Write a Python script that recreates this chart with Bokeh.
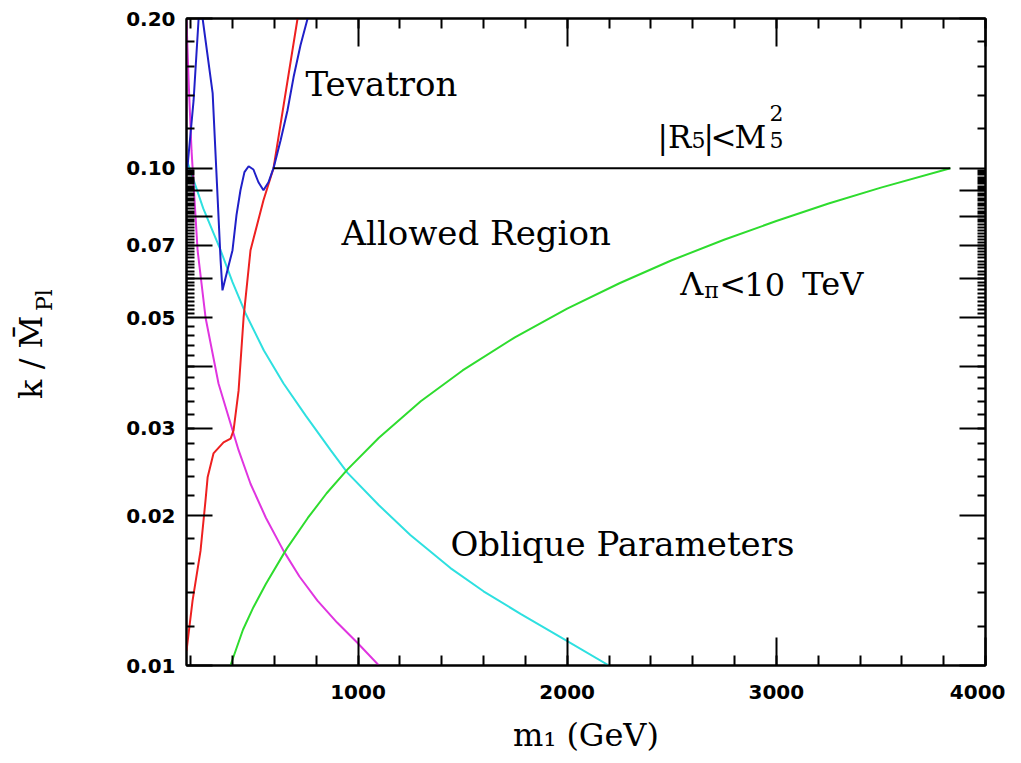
import numpy as np
from bokeh.plotting import figure
from bokeh.models import Range1d, FixedTicker, LinearAxis, LogAxis, Label
from bokeh.embed import file_html
from bokeh.resources import INLINE

# ---------------- data ----------------
cyan_m = [181, 260, 343, 400, 462, 550, 644, 750, 869, 950, 1100, 1250, 1442, 1600, 1777, 1968, 2200]
cyan_k = [0.1040, 0.0830, 0.0684, 0.0590, 0.0511, 0.0430, 0.0369, 0.0318, 0.0271, 0.0244, 0.0210, 0.0183, 0.0157, 0.0141, 0.0127, 0.0114, 0.0100]

magenta_m = [180, 190, 204, 233, 271, 333, 429, 486, 560, 644, 720, 806, 900, 998, 1100]
magenta_k = [0.1985, 0.1503, 0.1087, 0.0684, 0.0501, 0.0369, 0.0271, 0.0232, 0.0198, 0.0170, 0.0151, 0.0135, 0.0122, 0.0111, 0.0100]

green_m = [390, 450, 500, 560, 660, 760, 850, 950, 1100, 1300, 1500, 1750, 2000, 2250, 2500, 2750, 3000, 3250, 3500, 3832]
green_k = [0.0100, 0.0118, 0.0131, 0.0146, 0.0172, 0.0198, 0.0222, 0.0248, 0.0287, 0.0340, 0.0392, 0.0457, 0.0522, 0.0587, 0.0653, 0.0718, 0.0783, 0.0849, 0.0914, 0.1000]

red_m = [180, 209, 247, 271, 281, 309, 357, 391, 405, 429, 453, 486, 548, 596, 711]
red_k = [0.0107, 0.0135, 0.0170, 0.0215, 0.0239, 0.0267, 0.0281, 0.0286, 0.0297, 0.0357, 0.0501, 0.0684, 0.0862, 0.1000, 0.2000]

blue_m = [181, 214, 238, 247, 257, 305, 343, 352, 376, 400, 419, 438, 457, 477, 500, 524, 548, 572, 596, 630, 663, 692, 725, 759]
blue_k = [0.0968, 0.1370, 0.2000, 0.2300, 0.2000, 0.1416, 0.0653, 0.0568, 0.0624, 0.0684, 0.0805, 0.0903, 0.0982, 0.1009, 0.0994, 0.0937, 0.0903, 0.0937, 0.1000, 0.1138, 0.1308, 0.1525, 0.1767, 0.2000]

bound_m = [596, 3832]
bound_k = [0.10, 0.10]

x_major = [1000, 2000, 3000, 4000]
x_minor = list(range(200, 4001, 200))
y_major = [0.01, 0.02, 0.03, 0.04, 0.05, 0.06, 0.07, 0.08, 0.09, 0.10, 0.20]
y_labels = {0.01: "0.01", 0.02: "0.02", 0.03: "0.03", 0.04: "", 0.05: "0.05", 0.06: "",
            0.07: "0.07", 0.08: "", 0.09: "", 0.10: "0.10", 0.20: "0.20"}
y_minor = ([i / 1000 for i in range(12, 20, 2)] + [i / 1000 for i in range(22, 50, 2)]
           + [i / 1000 for i in range(51, 100)] + [i / 100 for i in range(12, 20, 2)])

SERIF = "DejaVu Serif"

# ---------------- figure ----------------
p = figure(width=1005, height=761, x_range=Range1d(180, 4000), y_range=Range1d(0.01, 0.2),
           y_axis_type="log", output_backend="svg", toolbar_location=None,
           min_border_left=186, min_border_right=20, min_border_top=18, min_border_bottom=96)
p.xgrid.visible = False
p.ygrid.visible = False
p.outline_line_color = "black"
p.outline_line_width = 2
p.background_fill_color = "white"
p.border_fill_color = "white"

def style_axis(ax, labels=True):
    ax.axis_line_width = 2
    ax.major_tick_line_width = 2
    ax.minor_tick_line_width = 2
    ax.major_tick_out = 0
    ax.minor_tick_out = 0
    ax.major_label_text_font = "DejaVu Sans"
    ax.major_label_text_font_style = "bold"
    ax.major_label_text_font_size = "20px"
    ax.major_label_text_color = "black"
    ax.axis_label_text_font = SERIF
    ax.axis_label_text_font_style = "normal"
    ax.axis_label_text_font_size = "32px"
    ax.axis_label_text_color = "black"
    if not labels:
        ax.major_label_text_color = None
        ax.major_label_text_font_size = "1px"
        ax.major_label_standoff = 0

xb = p.xaxis[0]
xb.ticker = FixedTicker(ticks=x_major, minor_ticks=x_minor)
style_axis(xb)
xb.major_tick_in = 28
xb.minor_tick_in = 10
xb.major_label_standoff = 19
xb.axis_label = "m\u2081 (GeV)"
xb.axis_label_standoff = 14

yl = p.yaxis[0]
yl.ticker = FixedTicker(ticks=y_major, minor_ticks=y_minor)
yl.major_label_overrides = y_labels
style_axis(yl)
yl.major_tick_in = 26
yl.minor_tick_in = 8
yl.major_label_standoff = 11

# extra (invisible) left axis carrying the y title: subscript as a tick label, main text as axis label
pl_pos = 0.0543
ytitle = LogAxis(ticker=FixedTicker(ticks=[pl_pos], minor_ticks=[]))
style_axis(ytitle)
ytitle.axis_line_color = None
ytitle.major_tick_line_color = None
ytitle.minor_tick_line_color = None
ytitle.major_label_overrides = {pl_pos: "Pl"}
ytitle.major_label_text_font = SERIF
ytitle.major_label_text_font_style = "normal"
ytitle.major_label_text_font_size = "22px"
ytitle.major_label_orientation = "vertical"
ytitle.major_label_standoff = 66
ytitle.axis_label = "k / M\u0304\u00a0\u00a0\u00a0"
ytitle.axis_label_standoff = -20
p.add_layout(ytitle, "left")

xt = LinearAxis(ticker=FixedTicker(ticks=x_major, minor_ticks=x_minor))
style_axis(xt, labels=False)
xt.major_tick_in = 28
xt.minor_tick_in = 10
p.add_layout(xt, "above")

yr = LogAxis(ticker=FixedTicker(ticks=y_major, minor_ticks=y_minor))
style_axis(yr, labels=False)
yr.major_tick_in = 26
yr.minor_tick_in = 8
p.add_layout(yr, "right")

# ---------------- curves ----------------
p.line(cyan_m, cyan_k, line_color="#2ee0e0", line_width=2)
p.line(magenta_m, magenta_k, line_color="#e035e0", line_width=2)
p.line(green_m, green_k, line_color="#2edc2e", line_width=2)
p.line(red_m, red_k, line_color="#ee2020", line_width=2)
p.line(blue_m, blue_k, line_color="#2020c8", line_width=2)
p.line(bound_m, bound_k, line_color="black", line_width=2)

# ---------------- text ----------------
LIFT = 13  # screen-pixel lift of the in-plot labels

def lab(x, y, text, size=34, xo=0, yo=0):
    p.add_layout(Label(x=x, y=y, text=text, x_offset=xo, y_offset=yo + LIFT,
                       text_font=SERIF, text_font_size=f"{size}px", text_color="black",
                       text_baseline="alphabetic", text_align="left"))

lab(749, 0.139, "Tevatron")
lab(921, 0.0697, "Allowed Region")
lab(1442, 0.01656, "Oblique Parameters")

# |R5|<M5^2
RX, RY = 2432, 0.1087
lab(RX, RY, "|R", 31)
lab(RX, RY, "5", 22, xo=34, yo=-3)
lab(RX, RY, "|", 31, xo=46)
lab(RX, RY, "<", 31, xo=53)
lab(RX, RY, "M", 31, xo=77)
lab(RX, RY, "5", 22, xo=112, yo=-3)
lab(RX, RY, "2", 22, xo=112, yo=24)

# Lambda_pi < 10 TeV
LX, LY = 2541, 0.0550
lab(LX, LY, "Λ", 32)
lab(LX, LY, "π", 22, xo=24, yo=-6)
lab(LX, LY, "<", 32, xo=39)
lab(LX, LY, "10", 32, xo=64)
lab(LX, LY, "TeV", 32, xo=122)

open("out.html", "w").write(file_html(p, INLINE))
